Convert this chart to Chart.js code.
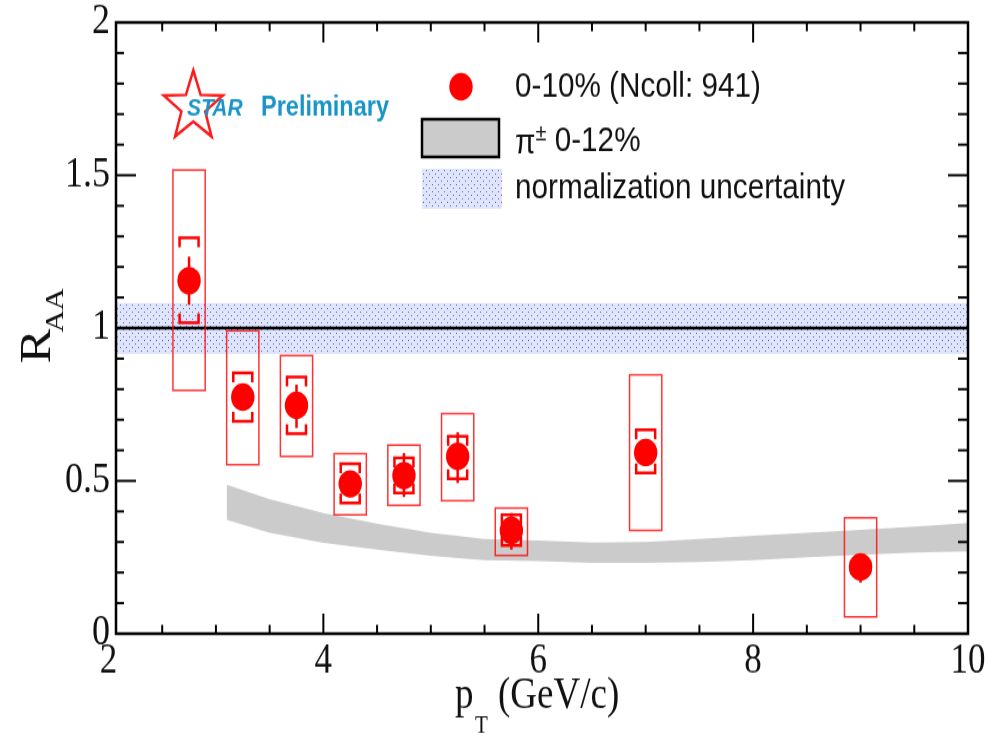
<!DOCTYPE html>
<html>
<head>
<meta charset="utf-8">
<script src="https://cdn.jsdelivr.net/npm/chart.js@4.4.1/dist/chart.umd.min.js"></script>
<style>
  html { margin: 0; padding: 0; background: #fff; overflow: hidden; }
  body { margin: 0; padding: 0; width: 987px; height: 734px; background: #fff; }
  /* the original figure is stretched vertically, so draw flat and stretch */
  #wrap { width: 987px; height: 622px; transform: scaleY(1.18); transform-origin: 0 0; }
</style>
</head>
<body>
<div id="wrap"><canvas id="chart" width="987" height="622"></canvas></div>
<script>
const canvas = document.getElementById("chart")
const ctx = canvas.getContext("2d")

// DATA
const ptValues  = [2.75, 3.25, 3.75, 4.25, 4.75, 5.25, 5.75, 7.0, 9.0]
const raaValues = [1.155, 0.774, 0.747, 0.490, 0.517, 0.580, 0.338, 0.593, 0.218]
const statLow   = [1.076, 0.740, 0.673, 0.455, 0.447, 0.493, 0.275, 0.560, 0.167]
const statHigh  = [1.234, 0.810, 0.815, 0.525, 0.591, 0.659, 0.395, 0.625, 0.260]
const sysLow    = [1.017, 0.695, 0.654, 0.428, 0.460, 0.507, 0.289, 0.526, 0.200]
const sysHigh   = [1.295, 0.853, 0.840, 0.556, 0.575, 0.646, 0.389, 0.667, 0.236]
const boxLow    = [0.796, 0.553, 0.580, 0.389, 0.420, 0.435, 0.256, 0.338, 0.055]
const boxHigh   = [1.517, 0.991, 0.910, 0.589, 0.617, 0.720, 0.411, 0.847, 0.379]
const boxHalfWidth = 0.15 // GeV/c

// pi+- 0-12% band
const pionPt   = [3.1, 3.5, 4.0, 4.5, 5.0, 5.5, 6.0, 6.5, 7.0, 7.5, 8.0, 8.5, 9.0, 9.5, 10.0]
const pionHigh = [0.487, 0.440, 0.395, 0.360, 0.330, 0.310, 0.305, 0.298, 0.300, 0.310, 0.320, 0.330, 0.340, 0.350, 0.362]
const pionLow  = [0.373, 0.330, 0.297, 0.275, 0.255, 0.240, 0.237, 0.232, 0.232, 0.235, 0.240, 0.250, 0.258, 0.265, 0.269]

// normalization uncertainty band around unity
const unityValue = 1
const normLow = 0.915
const normHigh = 1.082

// axes
const xMin = 2.07
const xMax = 10
const xTickValues = [2, 4, 6, 8, 10]
const yMin = 0
const yMax = 2

const legendLabels = ["0-10% (Ncoll: 941)", "\u03C0\u00B1 0-12%", "normalization uncertainty"]

//dotted blue fill like the ROOT pattern
function dotPattern(){
    const c = document.createElement("canvas")
    c.width = 6
    c.height = 6
    const g = c.getContext("2d")
    g.fillStyle = "rgba(165,180,245,0.35)"
    g.fillRect(0, 0, 6, 6)
    g.fillStyle = "rgba(40,80,225,0.85)"
    g.fillRect(0, 0, 1, 1)
    g.fillRect(3, 3, 1, 1)
    return ctx.createPattern(c, "repeat")
}
const normFill = dotPattern()

function line(x0, y0, x1, y1){
    ctx.beginPath()
    ctx.moveTo(x0, y0)
    ctx.lineTo(x1, y1)
    ctx.stroke()
}

// boxes, brackets and stat bars, drawn just before the markers
const errorPlugin = {
    id: "errors",
    beforeDatasetDraw(chart, args){
        if(args.index !== 0) return
        const x = chart.scales.x
        const y = chart.scales.y
        ctx.save()
        for(let i = 0; i < ptValues.length; i++){
            const px = x.getPixelForValue(ptValues[i])
            const x0 = x.getPixelForValue(ptValues[i] - boxHalfWidth)
            const x1 = x.getPixelForValue(ptValues[i] + boxHalfWidth)
            const yt = y.getPixelForValue(boxHigh[i])
            const yb = y.getPixelForValue(boxLow[i])
            ctx.strokeStyle = "rgba(255,0,0,0.8)"
            ctx.lineWidth = 1.5
            ctx.strokeRect(x0, yt, x1 - x0, yb - yt)

            ctx.strokeStyle = "#ff0000"
            ctx.lineWidth = 2.5
            line(px, y.getPixelForValue(statHigh[i]), px, y.getPixelForValue(statLow[i]))

            const hw = 9.5, leg = 8
            const ys = y.getPixelForValue(sysHigh[i])
            ctx.beginPath()
            ctx.moveTo(px - hw, ys + leg)
            ctx.lineTo(px - hw, ys)
            ctx.lineTo(px + hw, ys)
            ctx.lineTo(px + hw, ys + leg)
            ctx.stroke()
            const yl = y.getPixelForValue(sysLow[i])
            ctx.beginPath()
            ctx.moveTo(px - hw, yl - leg)
            ctx.lineTo(px - hw, yl)
            ctx.lineTo(px + hw, yl)
            ctx.lineTo(px + hw, yl - leg)
            ctx.stroke()
        }
        ctx.restore()
    }
}

function drawStar(cx, cy, R, r){
    ctx.beginPath()
    for(let k = 0; k < 10; k++){
        const rad = k % 2 === 0 ? R : r
        const ang = -Math.PI / 2 + k * Math.PI / 5
        const px = cx + rad * Math.cos(ang)
        const py = cy + rad * Math.sin(ang)
        if(k === 0) ctx.moveTo(px, py)
        else ctx.lineTo(px, py)
    }
    ctx.closePath()
    ctx.stroke()
}

// frame, inward ticks, axis titles, legend, logo
const decorPlugin = {
    id: "decor",
    afterDraw(chart){
        const a = chart.chartArea
        const x = chart.scales.x
        const y = chart.scales.y
        ctx.save()
        ctx.strokeStyle = "#000"
        ctx.lineWidth = 2.5
        ctx.strokeRect(a.left, a.top, a.right - a.left, a.bottom - a.top)

        ctx.lineWidth = 2
        for(let v = 2.5; v < xMax; v += 0.5){
            const px = x.getPixelForValue(v)
            if(px <= a.left + 2) continue
            const len = v % 2 === 0 ? 17 : 7.5
            line(px, a.bottom, px, a.bottom - len)
            line(px, a.top, px, a.top + len)
        }
        for(let k = 1; k < 20; k++){
            const py = y.getPixelForValue(k / 10)
            const major = k % 5 === 0
            line(a.left, py, a.left + (major ? 20 : 8), py)
            line(a.right, py, a.right - (major ? 20 : 10), py)
        }

        // R_AA
        ctx.fillStyle = "#111"
        ctx.save()
        ctx.translate(50, 308)
        ctx.rotate(-Math.PI / 2)
        ctx.textBaseline = "alphabetic"
        ctx.font = '44px "Liberation Serif"'
        ctx.fillText("R", 0, 0)
        const wR = ctx.measureText("R").width
        ctx.font = '26px "Liberation Serif"'
        ctx.fillText("AA", wR - 3, 13)
        ctx.restore()

        // p_T (GeV/c)
        ctx.textBaseline = "alphabetic"
        ctx.font = '37px "Liberation Serif"'
        ctx.fillText("p", 455, 600)
        ctx.font = '21px "Liberation Serif"'
        ctx.fillText("T", 475, 621)
        ctx.font = '37px "Liberation Serif"'
        ctx.fillText("(GeV/c)", 498, 600)

        // legend
        ctx.textBaseline = "middle"
        ctx.fillStyle = "#ff0000"
        ctx.beginPath()
        ctx.arc(461, 73.5, 11.7, 0, Math.PI * 2)
        ctx.fill()
        ctx.fillStyle = "#cbcbcb"
        ctx.fillRect(422, 101, 77, 32)
        ctx.lineWidth = 2.5
        ctx.strokeStyle = "#000"
        ctx.strokeRect(422, 101, 77, 32)
        ctx.fillStyle = normFill
        ctx.fillRect(422, 143, 80, 34)
        ctx.fillStyle = "#111"
        ctx.font = '29.7px "Liberation Sans"'
        ctx.fillText(legendLabels[0], 515, 74)
        // pi with a raised +- sign
        const [piSym, pmSym] = [legendLabels[1][0], legendLabels[1][1]]
        const rest = legendLabels[1].slice(2)
        ctx.fillText(piSym, 515, 122)
        const wPi = ctx.measureText(piSym).width
        ctx.font = '20px "Liberation Sans"'
        ctx.fillText(pmSym, 515 + wPi, 113)
        const wPm = ctx.measureText(pmSym).width
        ctx.font = '29.7px "Liberation Sans"'
        ctx.fillText(rest, 515 + wPi + wPm, 120)
        ctx.fillText(legendLabels[2], 515, 160)

        // STAR Preliminary
        ctx.strokeStyle = "#ff1a1a"
        ctx.lineWidth = 2.5
        drawStar(193.3, 90.5, 31, 12.5)
        ctx.fillStyle = "#1b95c8"
        ctx.font = 'italic bold 21px "Liberation Sans"'
        ctx.fillText("STAR", 187, 92)
        ctx.font = 'bold 23.5px "Liberation Sans"'
        ctx.fillText("Preliminary", 261, 92)
        ctx.restore()
    }
}

const chart = new Chart(ctx, {
    type: "scatter",
    data: {
        datasets: [
            {
                label: legendLabels[0],
                data: ptValues.map((v, i) => ({x: v, y: raaValues[i]})),
                backgroundColor: "#ff0000",
                borderWidth: 0,
                pointRadius: 11.7,
                pointHoverRadius: 11.7,
                order: 0
            },
            {
                label: "norm low",
                data: [{x: xMin, y: normLow}, {x: xMax, y: normLow}],
                showLine: true,
                borderColor: "transparent",
                borderWidth: 0,
                pointRadius: 0,
                fill: false,
                order: 5
            },
            {
                label: legendLabels[2],
                data: [{x: xMin, y: normHigh}, {x: xMax, y: normHigh}],
                showLine: true,
                borderColor: "transparent",
                borderWidth: 0,
                pointRadius: 0,
                backgroundColor: normFill,
                fill: "-1",
                order: 4
            },
            {
                label: "unity",
                data: [{x: xMin, y: unityValue}, {x: xMax, y: unityValue}],
                showLine: true,
                borderColor: "#000",
                borderWidth: 2.5,
                pointRadius: 0,
                fill: false,
                order: 3
            },
            {
                label: "pion low",
                data: pionPt.map((v, i) => ({x: v, y: pionLow[i]})),
                showLine: true,
                borderColor: "transparent",
                borderWidth: 0,
                pointRadius: 0,
                fill: false,
                order: 2
            },
            {
                label: legendLabels[1],
                data: pionPt.map((v, i) => ({x: v, y: pionHigh[i]})),
                showLine: true,
                borderColor: "transparent",
                borderWidth: 0,
                pointRadius: 0,
                backgroundColor: "#cbcbcb",
                fill: "-1",
                order: 1
            }
        ]
    },
    options: {
        responsive: false,
        animation: false,
        events: [],
        layout: { padding: { top: 19, right: 19, bottom: 0, left: 0 } },
        plugins: {
            legend: { display: false },
            tooltip: { enabled: false }
        },
        scales: {
            x: {
                type: "linear",
                min: xMin,
                max: xMax,
                grid: { display: false, drawTicks: false },
                border: { display: false },
                afterBuildTicks: (s) => { s.ticks = xTickValues.map(v => ({value: v})) },
                afterFit: (s) => {
                    s.height = 85
                    s.paddingLeft = 0
                    s.paddingRight = 0
                },
                ticks: {
                    padding: 3,
                    color: "#111",
                    font: { family: "Liberation Serif", size: 35 },
                    callback: (v) => String(v)
                }
            },
            y: {
                type: "linear",
                min: yMin,
                max: yMax,
                grid: { display: false, drawTicks: false },
                border: { display: false },
                afterFit: (s) => {
                    s.width = 116
                    s.paddingTop = 0
                    s.paddingBottom = 0
                },
                ticks: {
                    stepSize: 0.5,
                    padding: 6,
                    color: "#111",
                    font: { family: "Liberation Serif", size: 36 },
                    callback: (v) => String(v)
                }
            }
        }
    },
    plugins: [errorPlugin, decorPlugin]
})
</script>
</body>
</html>
